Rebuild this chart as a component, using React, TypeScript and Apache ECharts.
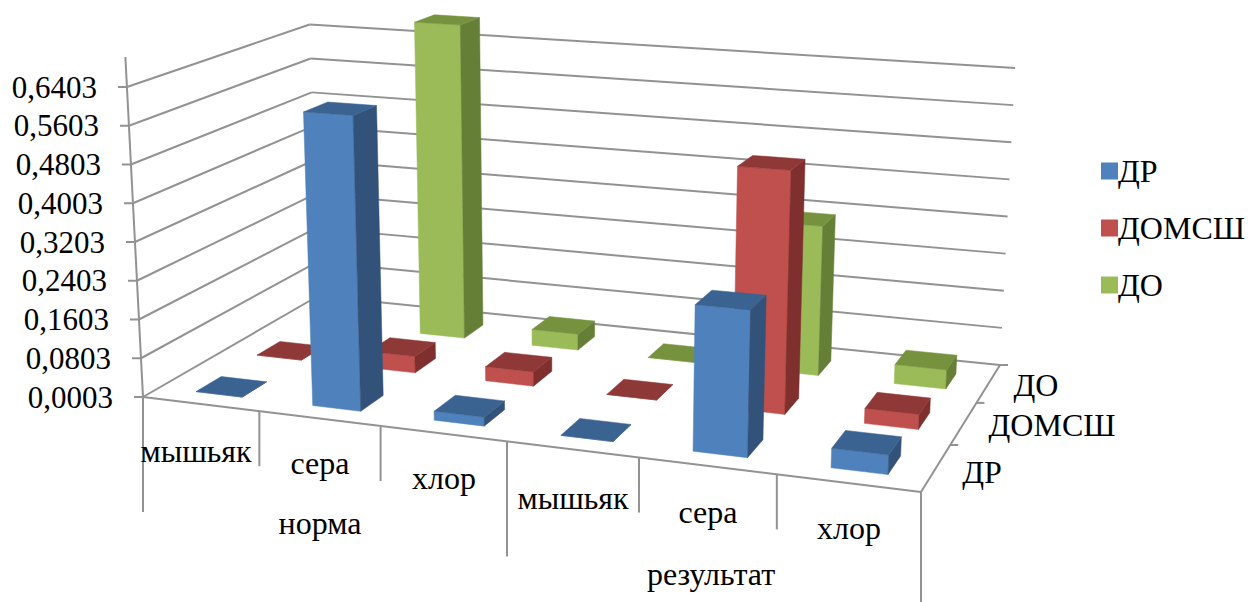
import React, { useEffect, useRef } from "react";
import * as echarts from "echarts";

// Chemical elements along the front edge, two groups of three.
const categories = ["мышьяк", "сера", "хлор", "мышьяк", "сера", "хлор"];
const groups = ["норма", "результат"];
const seriesNames = ["ДР", "ДОМСШ", "ДО"];
const valueTicks = ["0,0003", "0,0803", "0,1603", "0,2403", "0,3203", "0,4003", "0,4803", "0,5603", "0,6403"];

const drValues = [0.0003, 0.6, 0.018, 0.0003, 0.283, 0.037];
const domsshValues = [0.0003, 0.035, 0.03, 0.0003, 0.493, 0.03];
const doValues = [0.0003, 0.698, 0.035, 0.0003, 0.317, 0.04];

const AXIS_MIN = 0.0003;
const AXIS_MAX = 0.6403;

const FONT = "Liberation Serif";
const TICK_FONT_SIZE = 31;
const FONT_SIZE = 32;
const LINE = "#929292";

const faceColors = [
  { front: "#4F81BD", top: "#3A6391", side: "#32527A" },
  { front: "#C0504D", top: "#8E3937", side: "#7F2F2D" },
  { front: "#9BBB59", top: "#76923F", side: "#667F37" },
];

type Pt = [number, number];

// Perspective map of the unit square onto a screen quadrilateral.
function quadMap(p0: Pt, p1: Pt, p2: Pt, p3: Pt) {
  const dx1 = p1[0] - p2[0], dx2 = p3[0] - p2[0], sx = p0[0] - p1[0] + p2[0] - p3[0];
  const dy1 = p1[1] - p2[1], dy2 = p3[1] - p2[1], sy = p0[1] - p1[1] + p2[1] - p3[1];
  const det = dx1 * dy2 - dx2 * dy1;
  const g = (sx * dy2 - dx2 * sy) / det;
  const h = (dx1 * sy - sx * dy1) / det;
  const a = p1[0] - p0[0] + g * p1[0], b = p3[0] - p0[0] + h * p3[0], c = p0[0];
  const d = p1[1] - p0[1] + g * p1[1], e = p3[1] - p0[1] + h * p3[1], f = p0[1];
  return (u: number, v: number): Pt => {
    const w = g * u + h * v + 1;
    return [(a * u + b * v + c) / w, (d * u + e * v + f) / w];
  };
}

// Floor and ceiling planes of the chart box.
const floorMap = quadMap([143, 397], [921, 492], [1000, 365], [318, 296]);
const ceilMap = quadMap([127, 87], [937, 143], [1013, 68], [308, 24.5]);

// Verticals lean away from this column as they rise.
const LEAN_CENTER = 575;
const LEAN_RATE = 0.00012;

// u: position along the categories, v: depth, t: share of the value range.
function project(u: number, v: number, t: number): Pt {
  const a = floorMap(u, v);
  const rise = (a[1] - ceilMap(u, v)[1]) * t;
  return [a[0] + (a[0] - LEAN_CENTER) * LEAN_RATE * rise, a[1] - rise];
}

const BAR_SHARE = 0.4;
// Small offset of the bar block on the floor, towards the right and the viewer.
const BAR_SHIFT_U = 0.003;
const BAR_SHIFT_V = -0.015;

function renderBar(params: any, api: any) {
  const col = api.value(0);
  const row = api.value(1);
  const t = (api.value(2) - AXIS_MIN) / (AXIS_MAX - AXIS_MIN);
  const nU = categories.length;
  const nV = seriesNames.length;
  const pad = (1 - BAR_SHARE) / 2;
  const u0 = (col + pad) / nU + BAR_SHIFT_U, u1 = (col + 1 - pad) / nU + BAR_SHIFT_U;
  const v0 = (row + pad) / nV + BAR_SHIFT_V, v1 = (row + 1 - pad) / nV + BAR_SHIFT_V;
  const c = faceColors[row];
  const face = (points: Pt[], fill: string) => ({
    type: "polygon",
    shape: { points },
    style: { fill, stroke: fill, lineWidth: 0.5 },
  });
  return {
    type: "group",
    children: [
      face([project(u0, v0, 0), project(u1, v0, 0), project(u1, v0, t), project(u0, v0, t)], c.front),
      face([project(u1, v0, 0), project(u1, v1, 0), project(u1, v1, t), project(u1, v0, t)], c.side),
      face([project(u0, v0, t), project(u1, v0, t), project(u1, v1, t), project(u0, v1, t)], c.top),
    ],
  };
}

function segment(a: Pt, b: Pt) {
  return {
    type: "line",
    shape: { x1: a[0], y1: a[1], x2: b[0], y2: b[1] },
    style: { stroke: LINE, lineWidth: 2 },
    silent: true,
  };
}

function label(text: string, x: number, y: number, align: string, size = FONT_SIZE) {
  return {
    type: "text",
    x,
    y,
    silent: true,
    style: { text, fill: "#000", font: `${size}px "${FONT}"`, align, verticalAlign: "middle" },
  };
}

function frameElements() {
  const out: any[] = [];
  const n = valueTicks.length - 1;
  // Walls: one line per value tick, left wall then back wall.
  valueTicks.forEach((text, i) => {
    const t = i / n;
    const a = project(0, 0, t);
    const b = project(0, 1, t);
    const c = project(1, 1, t);
    out.push(segment(a, b), segment(b, c));
    out.push(segment([a[0] - 9, a[1]], a));
    out.push(label(text, a[0] - 30, a[1], "right", TICK_FONT_SIZE));
  });
  out.push(segment(project(0, 0, 0), project(0, 0, 1.097)));
  // Floor edges.
  out.push(segment(project(0, 0, 0), project(1, 0, 0)));
  out.push(segment(project(1, 0, 0), project(1, 1, 0)));
  // Front-edge dividers: long ones separate the groups.
  categories.forEach((name, i) => {
    const p = project(i / categories.length, 0, 0);
    out.push(segment(p, [p[0], p[1] + (i % 3 === 0 ? 115 : 55)]));
  });
  const end = project(1, 0, 0);
  out.push(segment(end, [end[0], end[1] + 110]));
  // Depth ticks on the right floor edge.
  for (let i = 1; i <= seriesNames.length; i++) {
    const p = project(1, i / seriesNames.length, 0);
    out.push(segment(p, [p[0] + 8, p[1]]));
  }
  const catPos: Pt[] = [[196, 451], [320, 463], [444, 478], [573, 498], [708, 512], [849, 528]];
  categories.forEach((name, i) => out.push(label(name, catPos[i][0], catPos[i][1], "center")));
  out.push(label(groups[0], 320, 523, "center"));
  out.push(label(groups[1], 711, 574, "center"));
  const depthPos: Pt[] = [[982, 472], [1052, 425], [1036, 385]];
  seriesNames.forEach((name, i) => out.push(label(name, depthPos[i][0], depthPos[i][1], "center")));
  return out;
}

const rows = [drValues, domsshValues, doValues];

export default function App() {
  const ref = useRef<HTMLDivElement>(null);
  useEffect(() => {
    const chart = echarts.init(ref.current!, undefined, { renderer: "svg" });
    chart.setOption({
      animation: false,
      backgroundColor: "#fff",
      legend: {
        orient: "vertical",
        left: 1096,
        top: 150,
        itemWidth: 17,
        itemHeight: 17,
        itemGap: 25,
        icon: "rect",
        data: seriesNames,
        selectedMode: false,
        textStyle: { fontFamily: FONT, fontSize: FONT_SIZE, color: "#000", padding: [0, 0, 0, -5] },
      },
      graphic: { elements: frameElements() },
      series: seriesNames.map((name, row) => ({
        type: "custom",
        name,
        coordinateSystem: "none",
        dimensions: ["col", "row", "value"],
        z: 4 - row,
        itemStyle: { color: faceColors[row].front },
        renderItem: renderBar,
        silent: true,
        data: rows[row].map((v, col) => [col, row, v]),
      })),
    });
    return () => chart.dispose();
  }, []);
  return <div ref={ref} style={{ position: "fixed", left: 0, top: 0, width: 1248, height: 602 }} />;
}
